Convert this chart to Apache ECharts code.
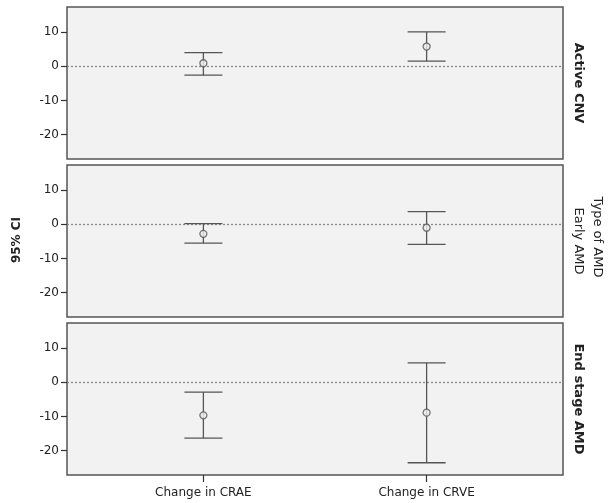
<!DOCTYPE html>
<html>
<head>
<meta charset="utf-8">
<script src="https://cdn.jsdelivr.net/npm/echarts@6/dist/echarts.min.js"></script>
<style>html,body{margin:0;padding:0;background:#fff}#c{width:609px;height:503px}</style>
</head>
<body>
<div id="c"></div>
<script>
const categories = ['Change in CRAE', 'Change in CRVE'];
const panels = ['Active CNV', 'Early AMD', 'End stage AMD'];
const facetTitle = 'Type of AMD';
const yTitle = '95% CI';
const yTicks = [-20, -10, 0, 10];

const activeMean = [0.9, 5.8];
const activeLow = [-2.6, 1.5];
const activeHigh = [4.0, 10.1];

const earlyMean = [-2.8, -1.0];
const earlyLow = [-5.5, -5.9];
const earlyHigh = [0.2, 3.7];

const endMean = [-9.7, -8.9];
const endLow = [-16.4, -23.6];
const endHigh = [-2.9, 5.7];

const means = [activeMean, earlyMean, endMean];
const lows = [activeLow, earlyLow, endLow];
const highs = [activeHigh, earlyHigh, endHigh];

const FONT = 'DejaVu Sans';
const tops = [7, 165, 323];
const H = 152;
const grids = tops.map(t => ({left: 67, right: 46, top: t, height: H, show: true,
  backgroundColor: '#f2f2f2', borderColor: '#555', borderWidth: 1.5}));

const xAxes = tops.map((t, i) => ({
  type: 'value', gridIndex: i, min: 0.389, max: 2.611, position: 'bottom',
  splitLine: {show: false}, axisLine: {show: false, onZero: false},
  axisTick: {show: i === 2, customValues: [1, 2], length: 7, lineStyle: {color: '#333', width: 1.2}},
  axisLabel: {show: i === 2, customValues: [1, 2], margin: 12, color: '#222', fontFamily: FONT, fontSize: 12,
    formatter: v => categories[Math.round(v) - 1] || ''}
}));

const yAxes = tops.map((t, i) => ({
  type: 'value', gridIndex: i, min: -27.2, max: 17.4,
  splitLine: {show: false}, axisLine: {show: false, onZero: false},
  axisTick: {show: true, customValues: yTicks, length: 6, lineStyle: {color: '#333', width: 1.2}},
  axisLabel: {customValues: yTicks, margin: 8, color: '#222', fontFamily: FONT, fontSize: 12}
}));

const series = [];
panels.forEach((p, i) => {
  series.push({
    type: 'custom', xAxisIndex: i, yAxisIndex: i, silent: true, z: 3,
    data: categories.map((c, j) => [j + 1, lows[i][j], highs[i][j]]),
    renderItem: (params, api) => {
      const x = api.value(0);
      const lo = api.coord([x, api.value(1)]);
      const hi = api.coord([x, api.value(2)]);
      const w = 19;
      const st = {stroke: '#555', lineWidth: 1.3};
      return {type: 'group', children: [
        {type: 'line', shape: {x1: lo[0], y1: lo[1], x2: hi[0], y2: hi[1]}, style: st},
        {type: 'line', shape: {x1: lo[0] - w, y1: lo[1], x2: lo[0] + w, y2: lo[1]}, style: st},
        {type: 'line', shape: {x1: hi[0] - w, y1: hi[1], x2: hi[0] + w, y2: hi[1]}, style: st}
      ]};
    }
  });
  series.push({
    type: 'scatter', xAxisIndex: i, yAxisIndex: i, silent: true, z: 4,
    symbol: 'circle', symbolSize: 7,
    itemStyle: {color: '#ececec', borderColor: '#555', borderWidth: 1.3},
    data: categories.map((c, j) => [j + 1, means[i][j]]),
    markLine: {silent: true, symbol: 'none', label: {show: false}, z: 2,
      lineStyle: {type: [2, 2], color: '#888', width: 1.3},
      data: [{yAxis: 0}]}
  });
});

const graphics = [];
panels.forEach((p, i) => {
  graphics.push({type: 'text', x: 578, y: tops[i] + H / 2, rotation: -Math.PI / 2,
    style: {text: p, fontFamily: FONT, fontSize: 13, fontWeight: i === 1 ? 'normal' : 'bold',
      fill: '#222', align: 'center', verticalAlign: 'middle'}});
});
graphics.push({type: 'text', x: 597, y: 237, rotation: -Math.PI / 2,
  style: {text: facetTitle, fontFamily: FONT, fontSize: 13, fill: '#222', align: 'center', verticalAlign: 'middle'}});
graphics.push({type: 'text', x: 17, y: 240, rotation: Math.PI / 2,
  style: {text: yTitle, fontFamily: FONT, fontSize: 12, fontWeight: 'bold', fill: '#222', align: 'center', verticalAlign: 'middle'}});

const chart = echarts.init(document.getElementById('c'));
chart.setOption({
  animation: false,
  backgroundColor: '#fff',
  grid: grids, xAxis: xAxes, yAxis: yAxes, series: series, graphic: graphics
});
</script>
</body>
</html>
